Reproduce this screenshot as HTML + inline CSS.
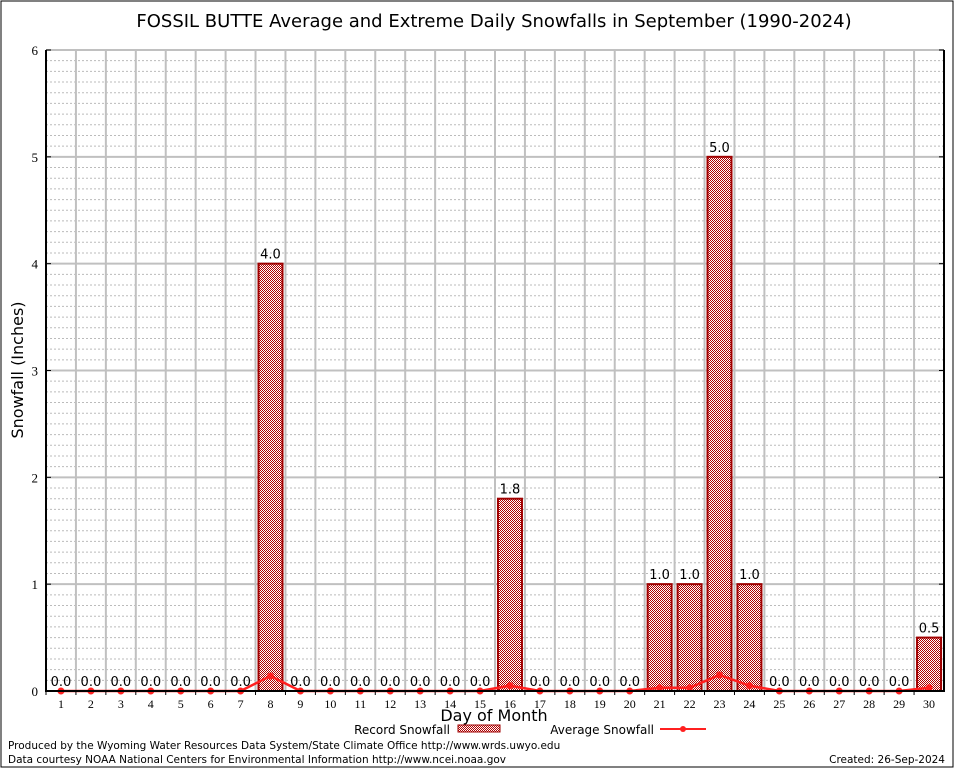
<!DOCTYPE html>
<html><head><meta charset="utf-8"><style>
body{margin:0;background:#fff}
svg{display:block}
text{font-family:"DejaVu Sans","Liberation Sans",sans-serif}
.serif{font-family:"Liberation Serif","DejaVu Serif",serif}
</style></head><body>
<svg id="chart" width="954" height="768">
<defs>
<pattern id="chk" width="2" height="2" patternUnits="userSpaceOnUse">
<rect width="2" height="2" fill="#fff"/><rect width="1" height="1" fill="#b00000"/><rect x="1" y="1" width="1" height="1" fill="#b00000"/>
</pattern>
</defs>
<rect x="1" y="1" width="952" height="766" fill="#fff" stroke="#000"/>
<text x="494" y="27" font-size="18" text-anchor="middle">FOSSIL BUTTE Average and Extreme Daily Snowfalls in September (1990-2024)</text>
<g id="grid"></g>
<g id="bars"></g>
<g id="avg"></g>
<g id="axes"></g>
<text x="23" y="370" font-size="16" text-anchor="middle" transform="rotate(-90 23 370)">Snowfall (Inches)</text>
<text x="494" y="721" font-size="16" text-anchor="middle">Day of Month</text>
<g>
<text x="450" y="734" font-size="12" text-anchor="end">Record Snowfall</text>
<rect x="458" y="725" width="42" height="7" fill="url(#chk)" stroke="#a00000"/>
<text x="654" y="734" font-size="12" text-anchor="end">Average Snowfall</text>
<line x1="660" y1="729" x2="706" y2="729" stroke="#ff2020" stroke-width="2"/>
<circle cx="683" cy="729" r="3" fill="#ff2020"/>
</g>
<text x="8" y="749" font-size="10.5">Produced by the Wyoming Water Resources Data System/State Climate Office http://www.wrds.uwyo.edu</text>
<text x="8" y="763" font-size="10.5">Data courtesy NOAA National Centers for Environmental Information http://www.ncei.noaa.gov</text>
<text x="945" y="763" font-size="10.5" text-anchor="end">Created:  26-Sep-2024</text>
</svg>
<script>
const days=[1,2,3,4,5,6,7,8,9,10,11,12,13,14,15,16,17,18,19,20,21,22,23,24,25,26,27,28,29,30];
const recordSnow=[0,0,0,0,0,0,0,4.0,0,0,0,0,0,0,0,1.8,0,0,0,0,1.0,1.0,5.0,1.0,0,0,0,0,0,0.5];
const avgSnow=[0,0,0,0,0,0,0,0.14,0,0,0,0,0,0,0,0.05,0,0,0,0,0.03,0.03,0.15,0.05,0,0,0,0,0,0.03];
const yTicks=[0,1,2,3,4,5,6];
const NS="http://www.w3.org/2000/svg";
const L=46,R=944,T=50,B=691,yMax=6;
const bw=(R-L)/days.length;
const xC=i=>L+(i+0.5)*bw;
const y=v=>B-(v/yMax)*(B-T);
function mk(tag,attrs,parent){const e=document.createElementNS(NS,tag);for(const k in attrs)e.setAttribute(k,attrs[k]);parent.appendChild(e);return e;}
const grid=document.getElementById('grid'),bars=document.getElementById('bars'),avg=document.getElementById('avg'),axes=document.getElementById('axes');
for(let k=1;k<yMax*10;k++){if(k%10===0)continue;const l=mk('line',{x1:L,x2:R,y1:y(k/10),y2:y(k/10),stroke:'#bbb','stroke-dasharray':'2,2'},grid);

}
for(let i=1;i<days.length;i++){const l=mk('line',{x1:L+i*bw,x2:L+i*bw,y1:T,y2:B,stroke:'#c0c0c0','stroke-width':2},grid);

}
yTicks.forEach(t=>{if(t>0){const l=mk('line',{x1:L,x2:R,y1:y(t),y2:y(t),stroke:'#c0c0c0','stroke-width':2},grid);

}
const tx=mk('text',{x:38,y:y(t)+5,'font-size':13,'text-anchor':'end',class:'serif'},axes);tx.textContent=t;


[[L,L+5],[R-5,R]].forEach(p=>{const tk=mk('line',{x1:p[0],x2:p[1],y1:y(t),y2:y(t),stroke:'#000'},axes);

});});
days.forEach((d,i)=>{const v=recordSnow[i];
if(v>0){const r=mk('rect',{x:xC(i)-12,y:y(v),width:24,height:B-y(v),fill:'url(#chk)',stroke:'#a00000','stroke-width':2},bars);

}
const lb=mk('text',{x:xC(i),y:y(v)-5,'font-size':13,'text-anchor':'middle'},bars);lb.textContent=v.toFixed(1);


const xt=mk('text',{x:xC(i),y:708,'font-size':12,'text-anchor':'middle',class:'serif'},axes);xt.textContent=d;


const tk=mk('line',{x1:L+i*bw,x2:L+i*bw,y1:B,y2:B+4,stroke:'#000'},axes);

});
const pl=mk('polyline',{points:avgSnow.map((v,i)=>xC(i)+','+y(v)).join(' '),fill:'none',stroke:'#ff2020','stroke-width':2.5},avg);


avgSnow.forEach((v,i)=>{const c=mk('circle',{cx:xC(i),cy:y(v),r:3.5,fill:'#ff2020'},avg);

});
const ax=mk('path',{d:`M${L},${T}V${B}H${R}V${T}`,fill:'none',stroke:'#000','stroke-width':2},axes);


</script>
</body></html>
